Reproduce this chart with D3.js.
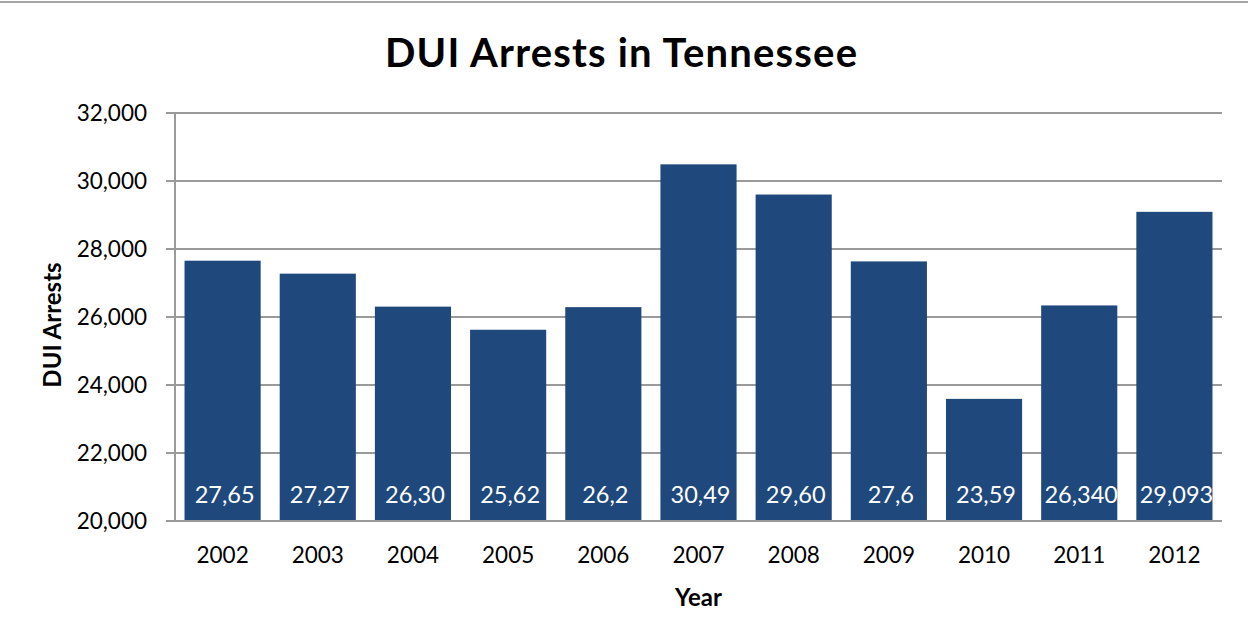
<!DOCTYPE html>
<html>
<head>
<meta charset="utf-8">
<script src="https://cdn.jsdelivr.net/npm/d3@7"></script>
<style>
  body { margin: 0; background: #fff; }
  svg { display: block; font-family: Lato, 'Open Sans', sans-serif; }
  .axis text { fill: #000; }
</style>
</head>
<body>
<div id="chart"></div>
<script>
const years = ['2002', '2003', '2004', '2005', '2006', '2007', '2008', '2009', '2010', '2011', '2012'];
const arrests = [27656, 27275, 26305, 25625, 26290, 30490, 29602, 27635, 23592, 26340, 29093];
// data labels as they show in the picture (cut off inside the bars)
const barLabels = ['27,65', '27,27', '26,30', '25,62', '26,2', '30,49', '29,60', '27,6', '23,59', '26,340', '29,093'];
const yTicks = [20000, 22000, 24000, 26000, 28000, 30000, 32000];

const width = 1248;
const height = 643;
const margin = { top: 113, right: 26, bottom: 122, left: 175 };
const innerW = width - margin.left - margin.right;
const innerH = height - margin.top - margin.bottom;
const barColor = '#1f497d';
const gridColor = '#9a9a9a';

const svg = d3.select('#chart').append('svg')
  .attr('width', width)
  .attr('height', height);

// thin frame line on top
svg.append('line')
  .attr('x1', 0).attr('x2', width)
  .attr('y1', 2).attr('y2', 2)
  .attr('stroke', '#a6a6a6')
  .attr('stroke-width', 2);

svg.append('text')
  .attr('x', 621)
  .attr('y', 67)
  .attr('text-anchor', 'middle')
  .attr('font-size', 40)
  .attr('font-weight', 'bold')
  .attr('textLength', 472)
  .attr('lengthAdjust', 'spacing')
  .text('DUI Arrests in Tennessee');

const g = svg.append('g')
  .attr('transform', `translate(${margin.left},${margin.top})`);

const xScale = d3.scaleBand()
  .domain(years)
  .range([0, innerW])
  .paddingInner(0.2)
  .paddingOuter(0.1);

const yScale = d3.scaleLinear()
  .domain([20000, 32000])
  .range([innerH, 0]);

// gridlines
g.append('g')
  .selectAll('line')
  .data(yTicks)
  .enter().append('line')
  .attr('x1', -9)
  .attr('x2', innerW)
  .attr('y1', d => yScale(d))
  .attr('y2', d => yScale(d))
  .attr('stroke', gridColor)
  .attr('stroke-width', 2);

const yAxis = d3.axisLeft(yScale)
  .tickValues(yTicks)
  .tickFormat(d3.format(','))
  .tickSize(0)
  .tickPadding(28);

g.append('g')
  .attr('class', 'axis axis--y')
  .call(yAxis)
  .call(s => s.select('.domain').remove())
  .selectAll('text')
  .attr('font-size', 22.5)
  .attr('font-family', 'Lato, sans-serif');

g.append('line')
  .attr('x1', 0).attr('x2', 0)
  .attr('y1', 0).attr('y2', innerH)
  .attr('stroke', gridColor)
  .attr('stroke-width', 2);

const bar = g.selectAll('.bar')
  .data(years)
  .enter().append('g')
  .classed('bar', true);

bar.append('clipPath')
  .attr('id', (d, i) => `clip${i}`)
  .append('rect')
  .attr('x', d => xScale(d))
  .attr('y', (d, i) => yScale(arrests[i]))
  .attr('width', xScale.bandwidth())
  .attr('height', (d, i) => innerH - yScale(arrests[i]));

bar.append('rect')
  .attr('x', d => xScale(d))
  .attr('y', (d, i) => yScale(arrests[i]))
  .attr('width', xScale.bandwidth())
  .attr('height', (d, i) => innerH - yScale(arrests[i]))
  .attr('fill', barColor);

bar.append('text')
  .attr('clip-path', (d, i) => `url(#clip${i})`)
  .attr('x', d => xScale(d) + xScale.bandwidth() / 2 + 2)
  .attr('y', innerH - 18)
  .attr('text-anchor', 'middle')
  .attr('font-size', 23.5)
  .attr('fill', '#fff')
  .text((d, i) => barLabels[i]);

// x axis baseline
g.append('line')
  .attr('x1', 0).attr('x2', innerW)
  .attr('y1', innerH).attr('y2', innerH)
  .attr('stroke', gridColor)
  .attr('stroke-width', 2);

const xAxis = d3.axisBottom(xScale)
  .tickSize(0)
  .tickPadding(26);

g.append('g')
  .attr('class', 'axis axis--x')
  .attr('transform', `translate(0,${innerH})`)
  .call(xAxis)
  .call(s => s.select('.domain').remove())
  .selectAll('text')
  .attr('font-size', 22.5)
  .attr('font-family', 'Lato, sans-serif');

svg.append('text')
  .attr('x', margin.left + innerW / 2)
  .attr('y', 606)
  .attr('text-anchor', 'middle')
  .attr('font-size', 24)
  .attr('font-weight', 'bold')
  .text('Year');

svg.append('text')
  .attr('transform', `translate(61,${margin.top + innerH / 2 + 8}) rotate(-90)`)
  .attr('text-anchor', 'middle')
  .attr('font-size', 24)
  .attr('font-weight', 'bold')
  .text('DUI Arrests');
</script>
</body>
</html>
